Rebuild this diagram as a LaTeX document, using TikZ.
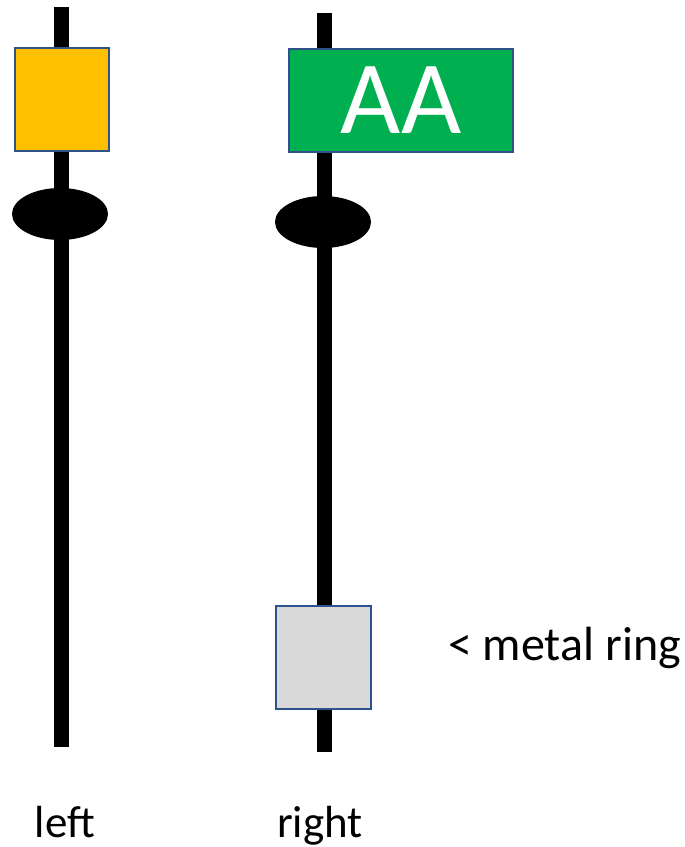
\documentclass[tikz,border=0pt]{standalone}
\usepackage{fontspec}
\setmainfont{Carlito}
\usepackage{tikz}
\usetikzlibrary{positioning}
\usetikzlibrary{shapes.geometric}

\definecolor{boxline}{HTML}{2F528F}
\definecolor{tagyellow}{HTML}{FFC000}
\definecolor{taggreen}{HTML}{00B050}
\definecolor{ringgray}{HTML}{D9D9D9}

\begin{document}
\begin{tikzpicture}[
    x=1pt, y=-1pt,
    pole/.style={
        line width=15pt
    },
    tag/.style={
        draw=boxline,
        line width=2pt,
        inner sep=0pt,
        minimum height=103pt
    },
    knob/.style={
        ellipse,
        fill=black,
        inner sep=0pt,
        minimum width=96pt,
        minimum height=52pt
    },
    label/.style={
        font=\fontsize{45}{50}\selectfont,
        inner sep=0pt
    }
]
\useasboundingbox (0,0) rectangle (685,847);

% Poles
\coordinate (lefttop) at (61,7);
\coordinate (leftbot) at (61,747);
\coordinate (righttop) at (324,13);
\coordinate (rightbot) at (324,752);
\draw[pole] (lefttop) -- (leftbot);
\draw[pole] (righttop) -- (rightbot);

% Main nodes
\node[tag, fill=tagyellow, minimum width=94pt] (yellowtag) at (62,99) {};
\node[tag, fill=taggreen, minimum width=224pt, text=white,
      font=\fontsize{104}{110}\selectfont] (greentag) at (401,100) {AA};

\node[knob] (leftknob) at (60,214) {};
\node[knob] (rightknob) at (323,222) {};

\node[tag, fill=ringgray, minimum width=95pt] (ring) at (323.5,657.5) {};

% Labels
\node[label, anchor=base west, font=\fontsize{48}{52}\selectfont] (ringlabel) at (448,660) {< metal ring};
\node[label, anchor=base] (leftlabel) at (65,837) {left};
\node[label, anchor=base] (rightlabel) at (320,837) {right};

\end{tikzpicture}
\end{document}
